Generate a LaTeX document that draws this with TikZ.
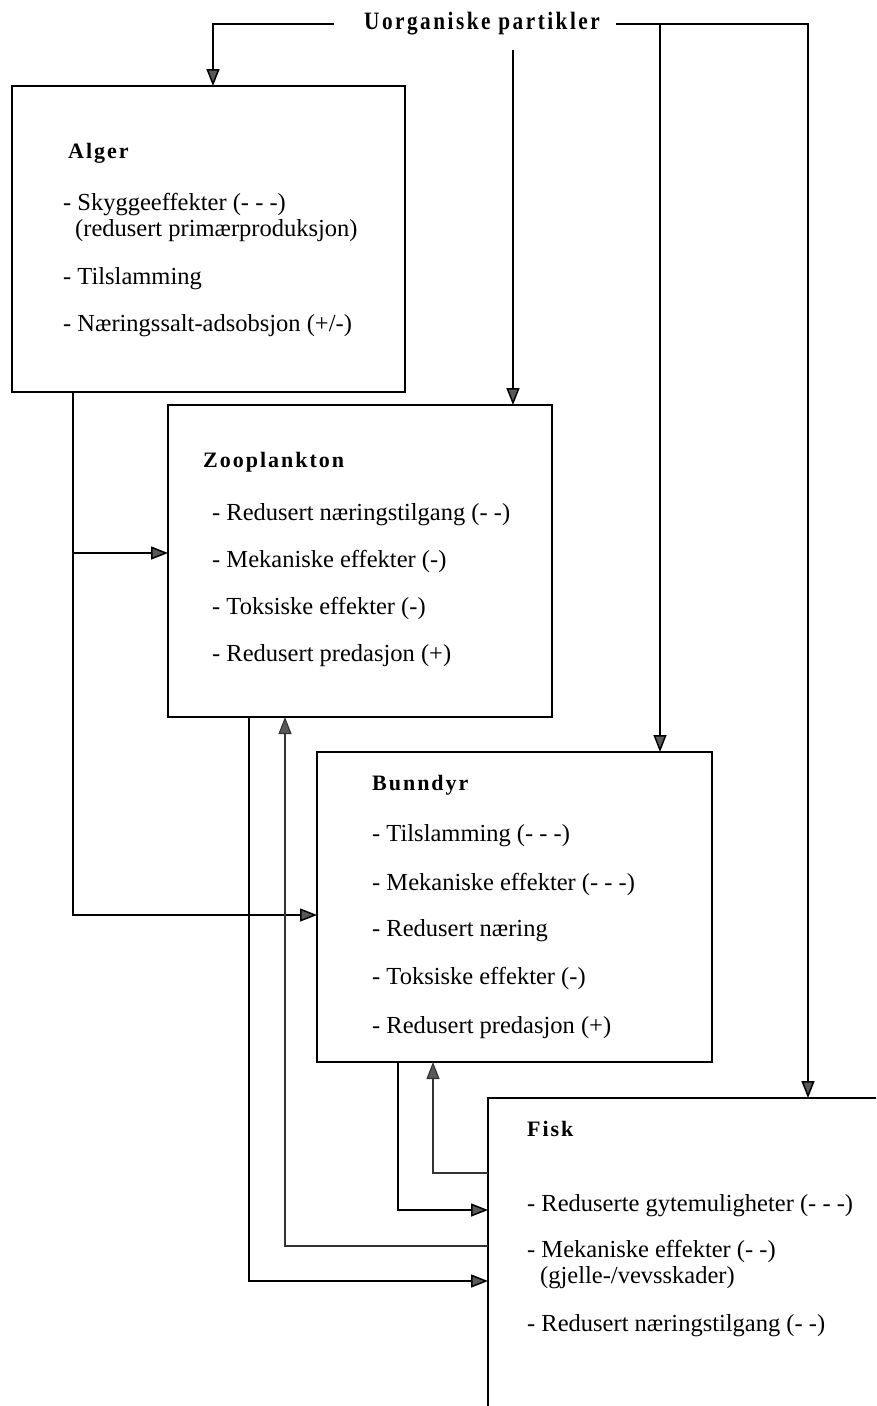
\documentclass[tikz,border=0pt]{standalone}
\usepackage{fontspec}
\setmainfont{Liberation Serif}
\newfontfamily\ttlfont{Liberation Serif}[LetterSpace=9]
\newfontfamily\hdrfont{Liberation Serif}[LetterSpace=10,FakeStretch=0.85]
\usetikzlibrary{arrows.meta}
\begin{document}
\begin{tikzpicture}[x=1pt,y=-1pt,
  box/.style={draw, line width=1.6pt, rectangle, inner sep=0pt, outer sep=0pt, anchor=north west},
  txt/.style={anchor=base west, inner sep=0pt, font=\fontsize{24.5}{24.5}\selectfont},
  ttl/.style={anchor=base west, inner sep=0pt, font=\fontsize{22}{22}\selectfont\ttlfont\bfseries},
  hdr/.style={inner sep=0pt, font=\fontsize{25}{25}\selectfont\hdrfont\bfseries},
  conn/.style={line width=1.5pt},
  tip/.style={-{Triangle[length=17pt,width=13pt,fill=black!65]}},
  arr/.style={conn, tip},
  fb/.style={line width=1.1pt, black!80, tip}
]
\useasboundingbox (0,0) rectangle (876,1406);

% header
\node[hdr] (src) at (482,24) {Uorganiske partikler};

% boxes
\node[box, minimum width=393pt, minimum height=306pt] (alger) at (12,86) {};
\node[box, minimum width=384pt, minimum height=312pt] (zoo) at (168,405) {};
\node[box, minimum width=395pt, minimum height=310pt] (bunn) at (317,752) {};
\node[box, draw=none, minimum width=388pt, minimum height=308pt] (fisk) at (488,1098) {};
\draw[line width=1.6pt] (fisk.south west) -- (fisk.north west) -- (fisk.north east);

% Alger text
\node[ttl] (alt) at (68,158) {Alger};
\node[txt] (al1) at (63,210) {- Skyggeeffekter (- - -)};
\node[txt] (al1b) at (75,236) {(redusert primærproduksjon)};
\node[txt] (al2) at (63,284) {- Tilslamming};
\node[txt] (al3) at (63,331) {- Næringssalt-adsobsjon (+/-)};

% Zooplankton text
\node[ttl] (zot) at (203,467) {Zooplankton};
\node[txt] (zo1) at (212,520) {- Redusert næringstilgang (- -)};
\node[txt] (zo2) at (212,567) {- Mekaniske effekter (-)};
\node[txt] (zo3) at (212,614) {- Toksiske effekter (-)};
\node[txt] (zo4) at (212,661) {- Redusert predasjon (+)};

% Bunndyr text
\node[ttl] (but) at (372,790) {Bunndyr};
\node[txt] (bu1) at (372,841) {- Tilslamming (- - -)};
\node[txt] (bu2) at (372,890) {- Mekaniske effekter (- - -)};
\node[txt] (bu3) at (372,936) {- Redusert næring};
\node[txt] (bu4) at (372,984) {- Toksiske effekter (-)};
\node[txt] (bu5) at (372,1033) {- Redusert predasjon (+)};

% Fisk text
\node[ttl] (fit) at (527,1136) {Fisk};
\node[txt] (fi1) at (527,1211) {- Reduserte gytemuligheter (- - -)};
\node[txt] (fi2) at (527,1257) {- Mekaniske effekter (- -)};
\node[txt] (fi2b) at (540,1283) {(gjelle-/vevsskader)};
\node[txt] (fi3) at (527,1331) {- Redusert næringstilgang (- -)};

% header connectors
\coordinate (hl) at ([xshift=-30pt]src.west);
\coordinate (hr) at ([xshift=16pt]src.east);
\coordinate (zs) at (513,50);
\draw[arr] (hl) -| (alger.north -| 213,0);
\draw[arr] (zs) -- (zoo.north -| zs);
\draw[conn] (hr) -| (808,300);
\draw[arr] (hr -| 660,0) -- (bunn.north -| 660,0);
\draw[arr] (hr -| 808,0) -- (fisk.north -| 808,0);

% Alger outputs
\coordinate (a1) at (alger.south -| 73,0);
\draw[arr] (a1) |- (zoo.west |- 0,553);
\draw[arr] (a1) |- (bunn.west |- 0,915);

% Zooplankton output
\draw[arr] (zoo.south -| 249,0) |- (fisk.west |- 0,1281);
% Bunndyr output
\draw[arr] (bunn.south -| 398,0) |- (fisk.west |- 0,1210);

% feedback from Fisk
\draw[fb] (fisk.west |- 0,1246) -| (zoo.south -| 285,0);
\draw[fb] (fisk.west |- 0,1173) -| (bunn.south -| 433,0);
\end{tikzpicture}
\end{document}
